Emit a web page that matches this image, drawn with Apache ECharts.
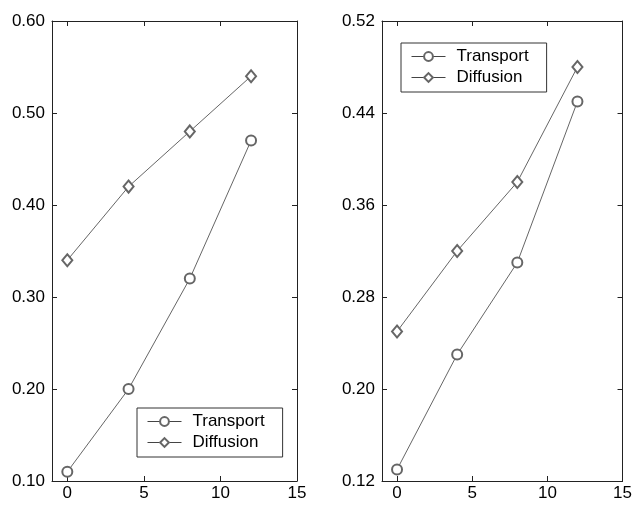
<!DOCTYPE html>
<html>
<head>
<meta charset="utf-8">
<script src="https://cdn.jsdelivr.net/npm/echarts@6/dist/echarts.min.js"></script>
<style>
  html, body { margin: 0; padding: 0; background: #fff; }
  #chart { width: 635px; height: 506px; }
</style>
</head>
<body>
<div id="chart"></div>
<script>
// shared x positions
const xValues = [0, 4, 8, 12]
const xTicks = [0, 5, 10, 15]

// left panel
const leftTransport = [0.11, 0.20, 0.32, 0.47]
const leftDiffusion = [0.34, 0.42, 0.48, 0.54]
const leftYTicks = [0.10, 0.20, 0.30, 0.40, 0.50, 0.60]

// right panel
const rightTransport = [0.13, 0.23, 0.31, 0.45]
const rightDiffusion = [0.25, 0.32, 0.38, 0.48]
const rightYTicks = [0.12, 0.20, 0.28, 0.36, 0.44, 0.52]

const font = 'Liberation Sans, Arial, sans-serif'
const ink = '#222'
const lineColor = '#666'

const pairs = (ys) => xValues.map((x, i) => [x, ys[i]])

function xAxisPair (gridIndex) {
  return [{
    gridIndex: gridIndex,
    type: 'value',
    min: -1,
    max: 15,
    position: 'bottom',
    axisLine: { onZero: false, lineStyle: { color: ink, width: 1 } },
    axisTick: { inside: true, length: 5, customValues: xTicks, lineStyle: { color: ink } },
    axisLabel: { customValues: xTicks, color: '#000', fontSize: 17, fontFamily: font, margin: 4 },
    splitLine: { show: false }
  }, {
    gridIndex: gridIndex,
    type: 'value',
    min: -1,
    max: 15,
    position: 'top',
    axisLine: { onZero: false, lineStyle: { color: ink, width: 1 } },
    axisTick: { inside: true, length: 5, customValues: xTicks, lineStyle: { color: ink } },
    axisLabel: { show: false },
    splitLine: { show: false }
  }]
}

function yAxisPair (gridIndex, ticks) {
  const min = ticks[0]
  const max = ticks[ticks.length - 1]
  return [{
    gridIndex: gridIndex,
    type: 'value',
    min: min,
    max: max,
    position: 'left',
    axisLine: { show: true, onZero: false, lineStyle: { color: ink, width: 1 } },
    axisTick: { show: true, inside: true, length: 5, customValues: ticks, lineStyle: { color: ink } },
    axisLabel: {
      customValues: ticks,
      color: '#000',
      fontSize: 17,
      fontFamily: font,
      margin: 7,
      formatter: v => v.toFixed(2)
    },
    splitLine: { show: false }
  }, {
    gridIndex: gridIndex,
    type: 'value',
    min: min,
    max: max,
    position: 'right',
    axisLine: { show: true, onZero: false, lineStyle: { color: ink, width: 1 } },
    axisTick: { show: true, inside: true, length: 5, customValues: ticks, lineStyle: { color: ink } },
    axisLabel: { show: false },
    splitLine: { show: false }
  }]
}

function makeSeries (name, ys, axisIdx, symbol, size) {
  return {
    name: name,
    type: 'line',
    xAxisIndex: axisIdx,
    yAxisIndex: axisIdx,
    data: pairs(ys),
    symbol: symbol,
    symbolSize: size,
    showAllSymbol: true,
    lineStyle: { color: lineColor, width: 1 },
    itemStyle: { color: lineColor, borderColor: lineColor, borderWidth: 1 },
    animation: false
  }
}

function makeLegend (left, top) {
  return {
    orient: 'vertical',
    left: left,
    top: top,
    data: ['Transport', 'Diffusion'],
    itemWidth: 34,
    itemHeight: 11,
    itemGap: 4,
    padding: [5, 18, 6, 10],
    borderColor: '#333',
    borderWidth: 1,
    selectedMode: false,
    lineStyle: { width: 1, color: '#444' },
    itemStyle: { borderWidth: 1, borderColor: '#444' },
    textStyle: { color: '#000', fontSize: 17, fontFamily: font, padding: [0, 0, 0, 6] }
  }
}

const myChart = echarts.init(document.getElementById('chart'))
myChart.setOption({
  backgroundColor: '#fff',
  animation: false,
  grid: [
    { left: 52, top: 21, width: 245, height: 460 },
    { left: 382, top: 21, width: 245, height: 460 }
  ],
  xAxis: [...xAxisPair(0), ...xAxisPair(1)],
  yAxis: [...yAxisPair(0, leftYTicks), ...yAxisPair(1, rightYTicks)],
  legend: [makeLegend(137, 408), makeLegend(401, 43)],
  series: [
    makeSeries('Transport', leftTransport, 0, 'emptyCircle', 10),
    makeSeries('Diffusion', leftDiffusion, 0, 'emptyDiamond', [10, 12]),
    makeSeries('Transport', rightTransport, 2, 'emptyCircle', 10),
    makeSeries('Diffusion', rightDiffusion, 2, 'emptyDiamond', [10, 12])
  ]
})
</script>
</body>
</html>
